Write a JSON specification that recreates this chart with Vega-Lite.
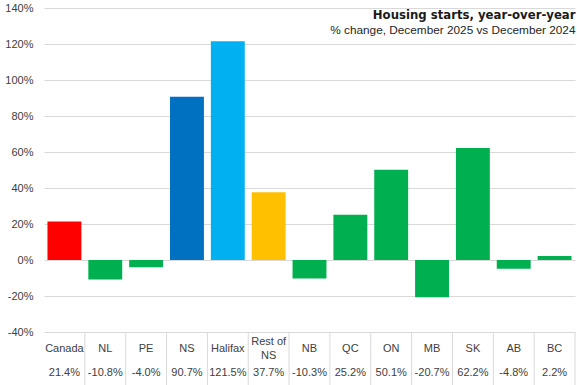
{
  "$schema": "https://vega.github.io/schema/vega-lite/v6.json",
  "width": 531,
  "height": 324,
  "autosize": {"type": "none"},
  "padding": {"left": 44, "top": 8, "right": 2, "bottom": 53},
  "background": "white",
  "title": {
    "text": "Housing starts, year-over-year",
    "subtitle": "% change, December  2025 vs December  2024",
    "anchor": "end",
    "orient": "top",
    "offset": -35,
    "font": "Liberation Sans Narrow, DejaVu Sans Condensed, sans-serif",
    "fontSize": 13,
    "fontWeight": "bold",
    "color": "#1a1a1a",
    "subtitleFont": "Liberation Sans, sans-serif",
    "subtitleFontSize": 11.8,
    "subtitleColor": "#262626",
    "subtitlePadding": 3
  },
  "data": {
    "values": [
      {"region": "Canada", "label": "Canada", "value": 21.4, "text": "21.4%"},
      {"region": "NL", "label": "NL", "value": -10.8, "text": "-10.8%"},
      {"region": "PE", "label": "PE", "value": -4.0, "text": "-4.0%"},
      {"region": "NS", "label": "NS", "value": 90.7, "text": "90.7%"},
      {"region": "Halifax", "label": "Halifax", "value": 121.5, "text": "121.5%"},
      {"region": "Rest of NS", "label": "Rest of\nNS", "value": 37.7, "text": "37.7%"},
      {"region": "NB", "label": "NB", "value": -10.3, "text": "-10.3%"},
      {"region": "QC", "label": "QC", "value": 25.2, "text": "25.2%"},
      {"region": "ON", "label": "ON", "value": 50.1, "text": "50.1%"},
      {"region": "MB", "label": "MB", "value": -20.7, "text": "-20.7%"},
      {"region": "SK", "label": "SK", "value": 62.2, "text": "62.2%"},
      {"region": "AB", "label": "AB", "value": -4.8, "text": "-4.8%"},
      {"region": "BC", "label": "BC", "value": 2.2, "text": "2.2%"}
    ]
  },
  "layer": [
    {
      "mark": {"type": "bar"},
      "encoding": {
        "x": {
          "field": "region",
          "type": "nominal",
          "sort": null,
          "scale": {"paddingInner": 0.17, "paddingOuter": 0.085},
          "axis": null
        },
        "y": {
          "field": "value",
          "type": "quantitative",
          "scale": {"domain": [-40, 140], "nice": false},
          "axis": {"title": null}
        },
        "color": {
          "field": "region",
          "type": "nominal",
          "legend": null,
          "scale": {
            "domain": ["Canada", "NL", "PE", "NS", "Halifax", "Rest of NS", "NB", "QC", "ON", "MB", "SK", "AB", "BC"],
            "range": ["#ff0000", "#00b050", "#00b050", "#0070c0", "#00b0f0", "#ffc000", "#00b050", "#00b050", "#00b050", "#00b050", "#00b050", "#00b050", "#00b050"]
          }
        }
      }
    },
    {
      "mark": {"type": "rule", "color": "#d9d9d9", "strokeWidth": 1},
      "encoding": {
        "x": {"field": "region", "type": "nominal", "sort": null, "bandPosition": 1.1024, "axis": null},
        "y": {"datum": -40, "type": "quantitative", "axis": {"title": null}},
        "y2": {"datum": -69.5}
      }
    },
    {
      "transform": [{"filter": "datum.region !== 'Rest of NS'"}],
      "mark": {
        "type": "text",
        "baseline": "middle",
        "align": "center",
        "font": "Liberation Sans, sans-serif",
        "fontSize": 11,
        "color": "#404040"
      },
      "encoding": {
        "x": {"field": "region", "type": "nominal", "sort": null, "axis": null},
        "y": {"datum": -49.5, "type": "quantitative", "axis": {"title": null}},
        "text": {"field": "label"}
      }
    },
    {
      "transform": [{"filter": "datum.region === 'Rest of NS'"}],
      "mark": {
        "type": "text",
        "lineBreak": "\n",
        "baseline": "middle",
        "align": "center",
        "font": "Liberation Sans, sans-serif",
        "fontSize": 11,
        "color": "#404040",
        "lineHeight": 14
      },
      "encoding": {
        "x": {"field": "region", "type": "nominal", "sort": null, "axis": null},
        "y": {"datum": -45.3, "type": "quantitative", "axis": {"title": null}},
        "text": {"field": "label"}
      }
    },
    {
      "mark": {
        "type": "text",
        "baseline": "middle",
        "align": "center",
        "font": "Liberation Sans, sans-serif",
        "fontSize": 11,
        "color": "#404040"
      },
      "encoding": {
        "x": {"field": "region", "type": "nominal", "sort": null, "axis": null},
        "y": {"datum": -62.5, "type": "quantitative", "axis": {"title": null}},
        "text": {"field": "text"}
      }
    }
  ],
  "config": {
    "view": {"stroke": null},
    "axisY": {
      "tickCount": 10,
      "labelExpr": "datum.value + '%'",
      "labelOverlap": false,
      "domain": false,
      "ticks": false,
      "grid": true,
      "gridColor": "#d9d9d9",
      "gridWidth": 1,
      "labelPadding": 11,
      "labelFont": "Liberation Sans, sans-serif",
      "labelFontSize": 11,
      "labelColor": "#404040"
    }
  }
}
